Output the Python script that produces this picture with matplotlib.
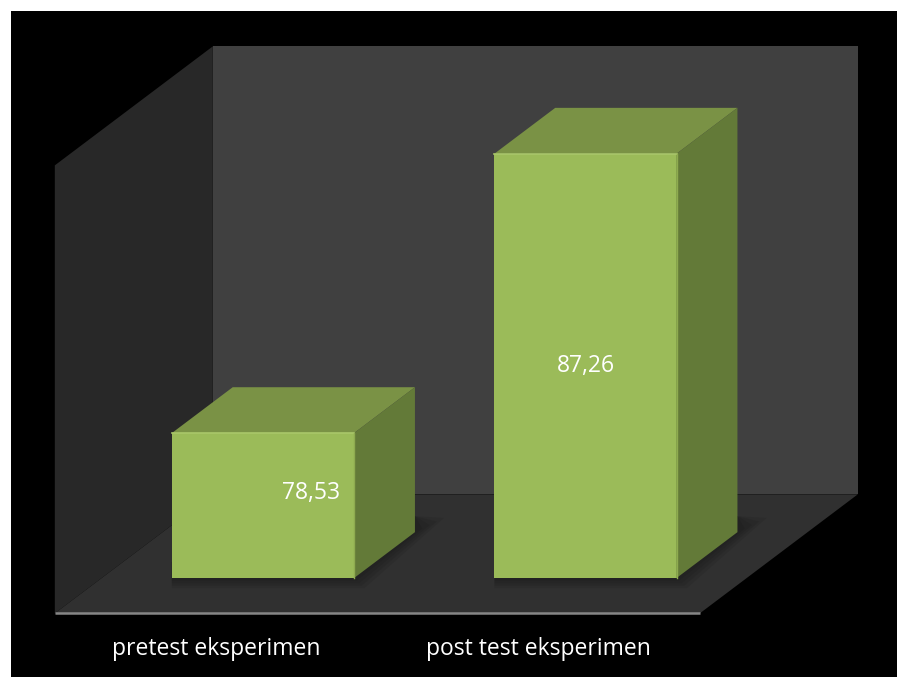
import matplotlib
matplotlib.use("Agg")
import matplotlib.pyplot as plt
from matplotlib.patches import Polygon, Rectangle

# data
categories = ["pretest eksperimen", "post test eksperimen"]
values = [78.53, 87.26]
value_labels = ["78,53", "87,26"]

# value axis of the chart (Excel picked 74..88)
v_min, v_max = 74, 88

# oblique 3d look, in data units
DX, DY = 0.49, 3.72          # full depth of the box
BOX_FRONT, BOX_BACK = -0.297, 0.703
BAR_DEPTH = 0.385
BAR_W = 0.565

# nudges for the data labels (category units, value units)
lab_dx = [0.15, 0.0]
lab_dy = [0.4, 0.0]

plt.rcParams['font.family'] = ['Open Sans', 'DejaVu Sans']

fig = plt.figure(figsize=(8.97, 6.77), dpi=100, facecolor="white")
fig.patches.append(Rectangle((11 / 897, 0), 1, 1 - 11 / 677, transform=fig.transFigure,
                             facecolor="black", edgecolor="none", zorder=-5))

ax = fig.add_axes([0, 0, 1, 1])
ax.set_facecolor("none")
ax.set_xlim(-263 / 322.5, (897 - 263) / 322.5)
ax.set_ylim(v_min - (677 - 578) / 32, v_min + 578 / 32)
ax.axis("off")


def proj(x, v, d):
    return (x + d * DX, v + d * DY)


def poly(pts, color, z):
    ax.add_patch(Polygon(pts, closed=True, facecolor=color, edgecolor="none", zorder=z))


x0, x1 = -0.5, len(categories) - 0.5

# walls and floor
poly([proj(x0, v_min, BOX_BACK), proj(x1, v_min, BOX_BACK),
      proj(x1, v_max, BOX_BACK), proj(x0, v_max, BOX_BACK)], "#404040", 1)
poly([proj(x0, v_min, BOX_FRONT), proj(x0, v_min, BOX_BACK),
      proj(x0, v_max, BOX_BACK), proj(x0, v_max, BOX_FRONT)], "#282828", 1)
poly([proj(x0, v_min, BOX_FRONT), proj(x1, v_min, BOX_FRONT),
      proj(x1, v_min, BOX_BACK), proj(x0, v_min, BOX_BACK)], "#303030", 2)
fx0, fy = proj(x0, v_min, BOX_FRONT)
fx1, _ = proj(x1, v_min, BOX_FRONT)
ax.plot([fx0, fx1], [fy, fy], color="#868686", lw=1.8, zorder=3, solid_capstyle="butt")

# bars
for i, v in enumerate(values):
    l, r = i - BAR_W / 2, i + BAR_W / 2
    # soft shadow on the floor, mostly below and to the right
    for k in range(4):
        s = 0.008 * (4 - k)
        poly([proj(l, v_min - 0.08 * (4 - k), 0), proj(r + s, v_min - 0.08 * (4 - k), 0),
              proj(r + s, v_min, BAR_DEPTH + 0.03 * (4 - k)), proj(r, v_min + 0.5, BAR_DEPTH),
              proj(l, v_min + 0.5, 0)], (0, 0, 0, 0.07), 3)
    ax.add_patch(Rectangle((l, v_min), BAR_W, v - v_min, facecolor="#9bbb59",
                           edgecolor="none", zorder=5))
    poly([proj(l, v, 0), proj(r, v, 0), proj(r, v, BAR_DEPTH), proj(l, v, BAR_DEPTH)], "#7a9245", 5)
    poly([proj(r, v_min, 0), proj(r, v_min, BAR_DEPTH), proj(r, v, BAR_DEPTH), proj(r, v, 0)],
         "#637a38", 5)
    # bevel highlight on the front top edge
    ax.plot([l, r], [v, v], color="#a9c76a", lw=1.2, zorder=6)
    ax.plot([r, r], [v_min, v], color="#8eab50", lw=1.0, zorder=6)

    ax.text(i + lab_dx[i], (v_min + v) / 2 + lab_dy[i], value_labels[i], color="white",
            fontsize=16.5, ha="center", va="center", zorder=7)

    cx, cy = proj(i, v_min, BOX_FRONT)
    ax.annotate(categories[i], (cx, cy), xytext=(0, -26), textcoords="offset points",
                color="white", fontsize=16.5, ha="center", va="center", zorder=7)

fig.savefig("out.png", dpi=100, facecolor=fig.get_facecolor())
